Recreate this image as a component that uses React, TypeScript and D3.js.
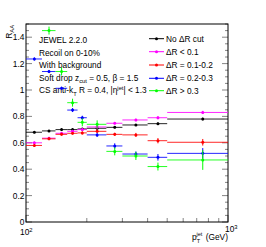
import React from "react";
import * as d3 from "d3";

const binEdges = [100, 120, 140, 160, 180, 200, 250, 300, 400, 500, 1000];
const binCenters = [110, 130, 150, 170, 190, 225, 275, 350, 450, 750];

const noCut = [0.68, 0.69, 0.7, 0.7, 0.705, 0.71, 0.717, 0.735, 0.745, 0.78];
const noCutErr = [0.008, 0.008, 0.008, 0.008, 0.008, 0.008, 0.008, 0.008, 0.01, 0.01];
const dr01 = [0.6, 0.635, 0.672, 0.687, 0.7, 0.72, 0.748, 0.773, 0.79, 0.83];
const dr01Err = [0.01, 0.01, 0.01, 0.01, 0.01, 0.01, 0.01, 0.01, 0.012, 0.012];
const dr0102 = [0.58, 0.63, 0.664, 0.672, 0.675, 0.687, 0.664, 0.66, 0.616, 0.604];
const dr0102Err = [0.01, 0.01, 0.01, 0.01, 0.012, 0.012, 0.012, 0.015, 0.02, 0.025];
const dr0203 = [1.235, 1.14, 1.013, 0.848, 0.79, 0.66, 0.576, 0.515, 0.49, 0.52];
const dr0203Err = [0.012, 0.012, 0.012, 0.015, 0.015, 0.015, 0.02, 0.02, 0.025, 0.04];
const dr03 = [NaN, 1.45, 1.14, 0.904, 0.755, 0.74, 0.535, 0.5, 0.42, 0.47];
const dr03Err = [0, 0.03, 0.03, 0.03, 0.03, 0.03, 0.03, 0.03, 0.03, 0.075];

const legendLabels = ["No \u0394R cut", "\u0394R < 0.1", "\u0394R = 0.1-0.2", "\u0394R = 0.2-0.3", "\u0394R > 0.3"];
const seriesColors = ["#000000", "#ff00ff", "#ff0000", "#0000ff", "#00ff00"];
const seriesValues = [noCut, dr01, dr0102, dr0203, dr03];
const seriesErrors = [noCutErr, dr01Err, dr0102Err, dr0203Err, dr03Err];

const yMajor = [0, 0.2, 0.4, 0.6, 0.8, 1, 1.2, 1.4];
const yTickLabels = ["0", "0.2", "0.4", "0.6", "0.8", "1", "1.2", "1.4"];

const W = 266, H = 247;
const L = 26, R = 228, T = 24, B = 222;
const FONT = "Liberation Sans, Arial, Helvetica, sans-serif";

export default function App() {
  const x = d3.scaleLog().domain([100, 1000]).range([L, R]);
  const y = d3.scaleLinear().domain([0, 1.5]).range([B, T]);

  const yMinor = d3.range(0, 1.5001, 0.05);
  const xMinor = [200, 300, 400, 500, 600, 700, 800, 900];

  const textRows = [43, 55.5, 68, 80.5, 93];
  const legRows = [41.7, 54.7, 68, 81.3, 93.7];

  return (
    <svg width={W} height={H} style={{ display: "block", position: "absolute", left: 0, top: 0 }} fontFamily={FONT}>
      <rect x={0} y={0} width={W} height={H} fill="#fff" />
      {/* ticks */}
      <g stroke="#666" strokeWidth={0.8}>
        {yMinor.map((v, i) => {
          const isMajor = Math.abs(v / 0.2 - Math.round(v / 0.2)) < 1e-6;
          const len = isMajor ? 6 : 3;
          return (
            <g key={"ym" + i}>
              <line x1={L} x2={L + len} y1={y(v)} y2={y(v)} />
              <line x1={R} x2={R - len} y1={y(v)} y2={y(v)} />
            </g>
          );
        })}
        {xMinor.map((v, i) => (
          <line key={"xm" + i} x1={x(v)} x2={x(v)} y1={B} y2={B - 4} />
        ))}
        <line x1={x(100)} x2={x(100)} y1={B} y2={B - 7} />
        <line x1={x(1000)} x2={x(1000)} y1={B} y2={B - 7} />
      </g>
      <rect x={L} y={T} width={R - L} height={B - T} fill="none" stroke="#000" strokeWidth={1} />

      {/* y tick labels */}
      <g fontSize={8.4} textAnchor="end" fill="#000">
        {yMajor.map((v, i) => (
          <text key={"yl" + i} x={L - 1.5} y={y(v) + 3}>{yTickLabels[i]}</text>
        ))}
      </g>
      {/* x tick labels */}
      <g fontSize={8.4} fill="#000">
        <text x={x(100) - 6} y={235}>10<tspan fontSize={5.8} dy={-3.5}>2</tspan></text>
        <text x={x(1000) - 3} y={232}>10<tspan fontSize={5.8} dy={-3.5}>3</tspan></text>
      </g>
      {/* axis titles */}
      <text x={228} y={240} fontSize={8.4} textAnchor="end" fill="#000">
        p<tspan fontSize={5.5} dy={2.5}>T</tspan><tspan fontSize={5.5} dx={-3.5} dy={-6.5}>jet</tspan><tspan dy={4} dx={1}> (GeV)</tspan>
      </text>
      <text transform={`translate(11.5, 25) rotate(-90)`} fontSize={8.4} textAnchor="end" fill="#000">
        R<tspan fontSize={5.8} dy={2}>AA</tspan>
      </text>

      {/* text block */}
      <g fontSize={8.3} fill="#000">
        <text x={39} y={textRows[0]}>JEWEL 2.2.0</text>
        <text x={39} y={textRows[1]}>Recoil on 0-10%</text>
        <text x={39} y={textRows[2]}>With background</text>
        <text x={39} y={textRows[3]}>
          Soft drop z<tspan fontSize={5.8} dy={2.5}>cut</tspan><tspan dy={-2.5}> = 0.5, {"\u03b2"} = 1.5</tspan>
        </text>
        <text x={39} y={textRows[4]}>
          CS anti-k<tspan fontSize={5.8} dy={2.5}>T</tspan><tspan dy={-2.5}> R = 0.4, |{"\u03b7"}</tspan><tspan fontSize={5.8} dy={-3.5}>jet</tspan><tspan dy={3.5}>| &lt; 1.3</tspan>
        </text>
      </g>

      {/* data */}
      {seriesValues.map((vals, s) => (
        <g key={"s" + s} stroke={seriesColors[s]} fill={seriesColors[s]}>
          {vals.map((v, i) => {
            if (!isFinite(v)) return null;
            const e = seriesErrors[s][i];
            const cx = x(binCenters[i]);
            const cy = y(v);
            return (
              <g key={i}>
                <line x1={x(binEdges[i])} x2={x(binEdges[i + 1])} y1={cy} y2={cy} strokeWidth={1} strokeOpacity={0.85} />
                <line x1={cx} x2={cx} y1={y(v - e)} y2={y(v + e)} strokeWidth={1} />
                <circle cx={cx} cy={cy} r={1.5} stroke="none" />
              </g>
            );
          })}
        </g>
      ))}

      {/* legend */}
      <g fontSize={8.3}>
        {legendLabels.map((lab, i) => (
          <g key={"lg" + i}>
            <line x1={149} x2={164} y1={legRows[i] - 3} y2={legRows[i] - 3} stroke={seriesColors[i]} strokeWidth={1} />
            <circle cx={156.5} cy={legRows[i] - 3} r={1.5} fill={seriesColors[i]} />
            <text x={166} y={legRows[i]} fill="#000">{lab}</text>
          </g>
        ))}
      </g>
    </svg>
  );
}
